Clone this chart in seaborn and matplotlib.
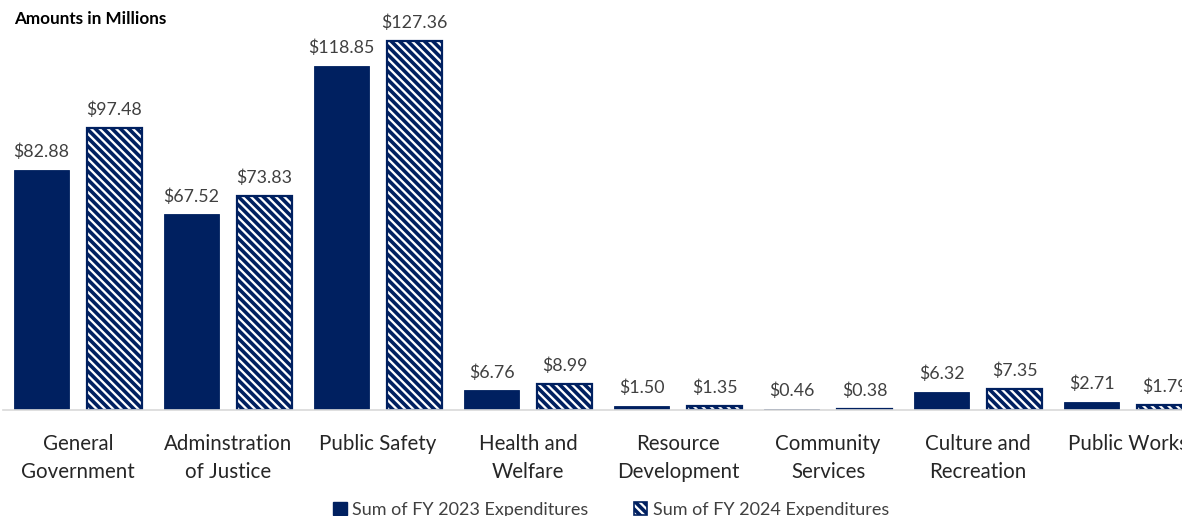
import matplotlib
matplotlib.use("Agg")
import matplotlib.pyplot as plt
import seaborn as sns
import pandas as pd
from matplotlib.patches import Patch

categories = ["General\nGovernment", "Adminstration\nof Justice", "Public Safety",
              "Health and\nWelfare", "Resource\nDevelopment", "Community\nServices",
              "Culture and\nRecreation", "Public Works"]
fy2023 = [82.88, 67.52, 118.85, 6.76, 1.50, 0.46, 6.32, 2.71]
fy2024 = [97.48, 73.83, 127.36, 8.99, 1.35, 0.38, 7.35, 1.79]
series = ["Sum of FY 2023 Expenditures", "Sum of FY 2024 Expenditures"]

navy = "#002060"
text_col = "#404040"

df = pd.DataFrame({
    "category": categories * 2,
    "value": fy2023 + fy2024,
    "series": [series[0]] * len(categories) + [series[1]] * len(categories),
})

sns.set_theme(style="white")
plt.rcParams["font.family"] = ["Lato", "DejaVu Sans"]
plt.rcParams["hatch.linewidth"] = 2.6
plt.rcParams["hatch.color"] = navy

fig = plt.figure(figsize=(11.82, 5.16), dpi=100)
W, H = 1182, 516
ax = fig.add_axes([3 / W, 106 / H, 1200 / W, (410 - 4.4) / H])

sns.barplot(data=df, x="category", y="value", hue="series", order=categories,
            hue_order=series, palette=[navy, "white"], width=0.973, gap=0.246,
            saturation=1, legend=False, ax=ax, linewidth=0)

n = len(categories)
bars = ax.patches
for i, p in enumerate(bars[:2 * n]):
    if i >= n:
        p.set_facecolor("white")
        p.set_edgecolor(navy)
        p.set_hatch("\\\\\\\\")
        p.set_linewidth(1.6)
    else:
        p.set_edgecolor(navy)
        p.set_linewidth(0.6)

for container in ax.containers:
    ax.bar_label(container, labels=[f"${v:.2f}" for v in container.datavalues],
                 padding=7, fontsize=12.8, color=text_col)

ax.set_xlim(-0.5, 7.5)
ax.set_ylim(0, 140)
ax.set_xlabel("")
ax.set_ylabel("")
ax.set_yticks([])
for s in ["top", "right", "left"]:
    ax.spines[s].set_visible(False)
ax.spines["bottom"].set_color("#d9d9d9")
ax.spines["bottom"].set_linewidth(1.2)
ax.tick_params(axis="x", length=0, pad=17, labelsize=14.8, labelcolor="#262626")
for t in ax.get_xticklabels():
    t.set_linespacing(1.55)
    t.set_verticalalignment("top")

fig.text(14 / W, 1 - 19 / H, "Amounts in Millions", fontsize=12.3, fontweight="bold",
         color="black", va="center", ha="left")

handles = [Patch(facecolor=navy, edgecolor=navy),
           Patch(facecolor="white", edgecolor=navy, hatch="\\\\\\\\", linewidth=1.2)]
fig.legend(handles, series, loc="center", bbox_to_anchor=(611 / W, 1 - 510 / H),
           ncol=2, frameon=False, fontsize=13, handlelength=0.75, handleheight=0.75,
           handletextpad=0.3, columnspacing=2.5, labelcolor=text_col)

fig.savefig("out.png", dpi=100)
